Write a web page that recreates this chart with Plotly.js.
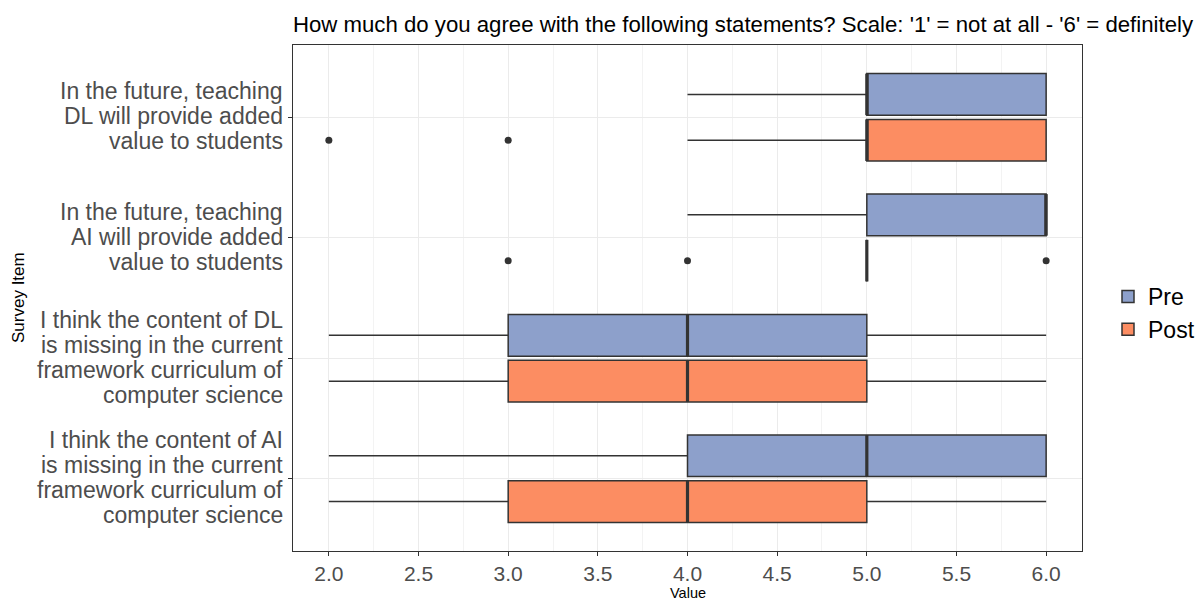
<!DOCTYPE html>
<html>
<head>
<meta charset="utf-8">
<script src="https://cdn.plot.ly/plotly-3.0.1.min.js"></script>
<style>html,body{margin:0;padding:0;background:#fff;}#chart{width:1197px;height:601px;}</style>
</head>
<body>
<div id="chart"></div>
<script>
// Survey items, listed top to bottom
var items = [
  "In the future, teaching<br>DL will provide added<br>value to students",
  "In the future, teaching<br>AI will provide added<br>value to students",
  "I think the content of DL<br>is missing in the current<br>framework curriculum of<br>computer science",
  "I think the content of AI<br>is missing in the current<br>framework curriculum of<br>computer science"
];
var groups = ["Pre", "Post"];

// Pre statistics
var preQ1  = [5, 5, 3, 4];
var preMed = [5, 6, 4, 5];
var preQ3  = [6, 6, 5, 6];
var preLo  = [4, 4, 2, 2];
var preHi  = [6, 6, 6, 6];

// Post statistics
var postQ1  = [5, 5, 3, 3];
var postMed = [5, 5, 4, 4];
var postQ3  = [6, 5, 5, 5];
var postLo  = [4, 5, 2, 2];
var postHi  = [6, 5, 6, 6];

// Outliers per item
var postOutliers = [[2, 3], [3, 4, 6], [], []];
var preOutliers  = [[], [], [], []];

var xTickVals = [2.0, 2.5, 3.0, 3.5, 4.0, 4.5, 5.0, 5.5, 6.0];
var xTickText = ["2.0", "2.5", "3.0", "3.5", "4.0", "4.5", "5.0", "5.5", "6.0"];

// layout helpers
var n = items.length;
var catPos = items.map(function(_, i){ return n - i; });
var dodge = 0.19, boxW = 0.345;
var colors = {Pre: "#8DA0CB", Post: "#FC8D62"};
var edge = "#333333";
var font = "Liberation Sans, Arial, sans-serif";

function boxTrace(name, sign, q1, med, q3, lo, hi) {
  return {
    type: "box", orientation: "h", name: name,
    y: catPos.map(function(p){ return p + sign * dodge; }),
    q1: q1, median: med, q3: q3, lowerfence: lo, upperfence: hi,
    width: boxW, whiskerwidth: 0, boxpoints: false,
    fillcolor: colors[name], line: {color: edge, width: 1.5},
    hoverinfo: "skip", showlegend: true
  };
}
function medianTrace(sign, med) {
  var xs = [], ys = [];
  catPos.forEach(function(p, i){
    var c = p + sign * dodge;
    xs.push(med[i], med[i], null);
    ys.push(c - boxW / 2, c + boxW / 2, null);
  });
  return {type: "scatter", mode: "lines", x: xs, y: ys,
    line: {color: edge, width: 3.2}, showlegend: false, hoverinfo: "skip"};
}
function outlierTrace(sign, outs) {
  var xs = [], ys = [];
  outs.forEach(function(arr, i){
    arr.forEach(function(v){ xs.push(v); ys.push(catPos[i] + sign * dodge); });
  });
  return {type: "scatter", mode: "markers", x: xs, y: ys,
    marker: {color: edge, size: 7}, showlegend: false, hoverinfo: "skip"};
}

var data = [
  boxTrace("Pre", 1, preQ1, preMed, preQ3, preLo, preHi),
  boxTrace("Post", -1, postQ1, postMed, postQ3, postLo, postHi),
  medianTrace(1, preMed),
  medianTrace(-1, postMed),
  outlierTrace(1, preOutliers),
  outlierTrace(-1, postOutliers)
];

// category labels: one annotation per line for ggplot-like line spacing
var annotations = [];
var lineGap = 25;
items.forEach(function(label, i){
  var lines = label.split("<br>");
  lines.forEach(function(line, j){
    annotations.push({
      xref: "paper", x: 0, xanchor: "right", xshift: -8,
      yref: "y", y: catPos[i], yanchor: "middle",
      yshift: ((lines.length - 1) / 2 - j) * lineGap + 1,
      text: line, showarrow: false,
      font: {family: font, size: 23, color: "#4D4D4D"}
    });
  });
});
annotations.push({
  xref: "paper", x: 0, xanchor: "center", xshift: -275,
  yref: "paper", y: 0.5, yanchor: "middle",
  text: "Survey Item", textangle: -90, showarrow: false,
  font: {family: font, size: 17, color: "#000000"}
});
annotations.push({
  xref: "paper", x: 0.5, xanchor: "center",
  yref: "paper", y: 0, yanchor: "middle", yshift: -42,
  text: "Value", showarrow: false,
  font: {family: font, size: 14.5, color: "#000000"}
});

var layout = {
  width: 1197, height: 601,
  margin: {l: 293, r: 115, t: 45, b: 50},
  paper_bgcolor: "#ffffff", plot_bgcolor: "#ffffff",
  font: {family: font, color: "#000000"},
  title: {text: "How much do you agree with the following statements? Scale: '1' = not at all - '6' = definitely",
    font: {family: font, size: 22.2, color: "#000000"},
    xref: "paper", x: 0, xanchor: "left", yref: "container", y: 1 - 24/601, yanchor: "middle"},
  boxmode: "overlay",
  showlegend: true,
  legend: {xref: "container", x: 1108/1197, xanchor: "left", yref: "container", y: 1 - 313/601, yanchor: "middle",
    font: {family: font, size: 23, color: "#000000"}, bgcolor: "rgba(0,0,0,0)", traceorder: "normal",
    tracegroupgap: 0},
  annotations: annotations,
  xaxis: {
    range: [1.8, 6.2], tickvals: xTickVals, ticktext: xTickText,
    showgrid: true, gridcolor: "#EBEBEB", gridwidth: 1.2,
    minor: {dtick: 0.25, showgrid: true, gridcolor: "#EBEBEB", gridwidth: 0.6, ticks: ""},
    zeroline: false, showline: true, mirror: true, linecolor: edge, linewidth: 1,
    ticks: "outside", ticklen: 4, tickcolor: edge, tickwidth: 1,
    tickfont: {family: font, size: 21, color: "#4D4D4D"},
    automargin: false
  },
  yaxis: {
    range: [0.4, 4.6], tickvals: catPos, ticktext: items.map(function(){ return ""; }),
    showgrid: true, gridcolor: "#EBEBEB", gridwidth: 1.2,
    zeroline: false, showline: true, mirror: true, linecolor: edge, linewidth: 1,
    ticks: "outside", ticklen: 4, tickcolor: edge, tickwidth: 1,
    automargin: false
  }
};

Plotly.newPlot("chart", data, layout, {displayModeBar: false, staticPlot: true});
</script>
</body>
</html>
